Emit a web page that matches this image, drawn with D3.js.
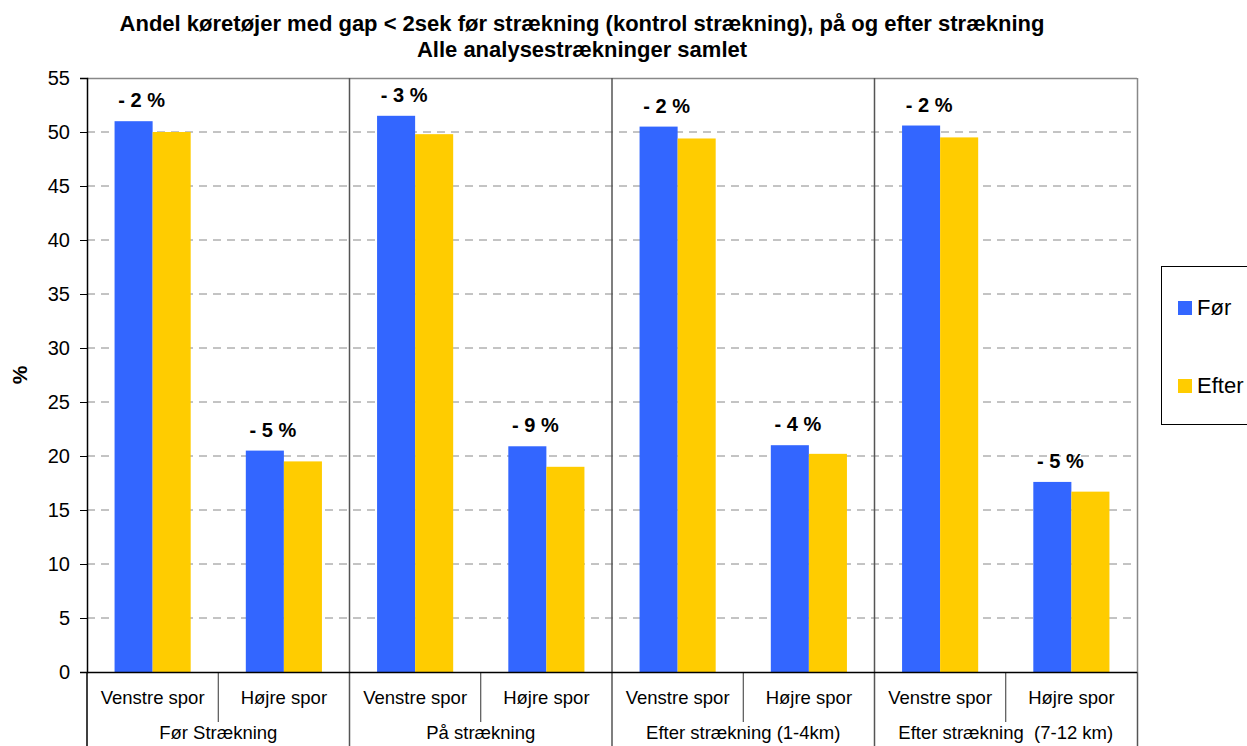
<!DOCTYPE html>
<html>
<head>
<meta charset="utf-8">
<script src="https://cdn.jsdelivr.net/npm/d3@7"></script>
<style>
  body { margin: 0; background: #fff; }
  svg { display: block; font-family: "Liberation Sans", Arial, sans-serif; }
</style>
</head>
<body>
<svg id="chart" width="1247" height="746"></svg>
<script>
// Sections along the road and the lanes within each section
const sections = ["Før Strækning", "På strækning", "Efter strækning (1-4km)", "Efter strækning  (7-12 km)"];
const lanes = ["Venstre spor", "Højre spor"];

// Share of vehicles with gap < 2 s (%), one value per section/lane
const forValues   = [51.0, 20.5, 51.5, 20.9, 50.5, 21.0, 50.6, 17.6];
const efterValues = [50.0, 19.5, 49.8, 19.0, 49.4, 20.2, 49.5, 16.7];

// Change labels shown above each pair
const changeLabels = ["- 2 %", "- 5 %", "- 3 %", "- 9 %", "- 2 %", "- 4 %", "- 2 %", "- 5 %"];

const seriesNames = ["Før", "Efter"];
const seriesColors = ["#3366FF", "#FFCC00"];
const yTicks = [0, 5, 10, 15, 20, 25, 30, 35, 40, 45, 50, 55];

const svg = d3.select("#chart");
const plot = { left: 87, right: 1137, top: 78, bottom: 672 };

const slots = d3.range(sections.length * lanes.length);
const x = d3.scaleBand().domain(slots).range([plot.left, plot.right])
  .paddingInner(0.42).paddingOuter(0.21);
const xSeries = d3.scaleBand().domain(seriesNames).range([0, x.bandwidth()]);
const y = d3.scaleLinear().domain([0, 55]).range([plot.bottom, plot.top]);

// Title
svg.append("text").attr("x", 582).attr("y", 31).attr("text-anchor", "middle")
  .attr("font-size", 22).attr("font-weight", "bold")
  .text("Andel køretøjer med gap < 2sek før strækning (kontrol strækning), på og efter strækning");
svg.append("text").attr("x", 582).attr("y", 57).attr("text-anchor", "middle")
  .attr("font-size", 22).attr("font-weight", "bold")
  .text("Alle analysestrækninger samlet");

// Dashed horizontal gridlines
svg.append("g").selectAll("line").data(yTicks.filter(t => t > 0 && t < 55)).join("line")
  .attr("x1", plot.left).attr("x2", plot.right)
  .attr("y1", d => y(d)).attr("y2", d => y(d))
  .attr("stroke", "#888").attr("stroke-width", 1).attr("stroke-dasharray", "8,6");

// Plot frame: top and right edges
svg.append("line").attr("x1", plot.left).attr("x2", plot.right)
  .attr("y1", plot.top + 0.5).attr("y2", plot.top + 0.5).attr("stroke", "#888").attr("stroke-width", 1.5);
svg.append("line").attr("x1", plot.right + 0.5).attr("x2", plot.right + 0.5)
  .attr("y1", plot.top).attr("y2", plot.bottom).attr("stroke", "#888").attr("stroke-width", 1.5);

// Bars
const pairs = slots.map(i => ({ slot: i, values: [forValues[i], efterValues[i]] }));
const barGroups = svg.append("g").selectAll("g").data(pairs).join("g")
  .attr("transform", d => `translate(${x(d.slot)},0)`);
barGroups.selectAll("rect").data(d => d.values.map((v, k) => ({ v, k }))).join("rect")
  .attr("x", d => xSeries(seriesNames[d.k]))
  .attr("width", xSeries.bandwidth())
  .attr("y", d => y(d.v))
  .attr("height", d => y(0) - y(d.v))
  .attr("fill", d => seriesColors[d.k]);

// Change labels above the "Før" bar
svg.append("g").selectAll("text").data(pairs).join("text")
  .attr("x", d => x(d.slot) + xSeries("Før") + xSeries.bandwidth() / 2 + 8)
  .attr("y", d => y(d.values[0]) - 14)
  .attr("text-anchor", "middle").attr("font-size", 20).attr("font-weight", "bold")
  .text(d => changeLabels[d.slot]);

// Group separators running from the top of the plot through the category rows
const groupWidth = (plot.right - plot.left) / sections.length;
svg.append("g").selectAll("line").data(d3.range(1, sections.length)).join("line")
  .attr("x1", d => plot.left + d * groupWidth).attr("x2", d => plot.left + d * groupWidth)
  .attr("y1", plot.top).attr("y2", 746)
  .attr("stroke", "#555").attr("stroke-width", 1.5);
svg.append("line").attr("x1", plot.right + 0.5).attr("x2", plot.right + 0.5)
  .attr("y1", plot.bottom).attr("y2", 746).attr("stroke", "#555").attr("stroke-width", 1.5);

// Lane separators within each section
svg.append("g").selectAll("line").data(d3.range(sections.length)).join("line")
  .attr("x1", d => plot.left + (d + 0.5) * groupWidth).attr("x2", d => plot.left + (d + 0.5) * groupWidth)
  .attr("y1", plot.bottom).attr("y2", 722)
  .attr("stroke", "#333").attr("stroke-width", 1);

// Y axis
const yAxis = svg.append("g").attr("transform", `translate(${plot.left},0)`)
  .call(d3.axisLeft(y).tickValues(yTicks).tickSize(7).tickPadding(10).tickFormat(d3.format("d")));
yAxis.select(".domain").attr("stroke", "#000").attr("stroke-width", 1.5);
yAxis.selectAll(".tick line").attr("stroke", "#000");
yAxis.selectAll("text").attr("font-size", 20).attr("font-family", "Liberation Sans, Arial, sans-serif").attr("fill", "#000");
svg.append("line").attr("x1", plot.left).attr("x2", plot.left)
  .attr("y1", plot.bottom).attr("y2", 746).attr("stroke", "#000").attr("stroke-width", 1.5);

// X axis baseline
svg.append("line").attr("x1", plot.left).attr("x2", plot.right)
  .attr("y1", plot.bottom + 0.5).attr("y2", plot.bottom + 0.5).attr("stroke", "#000").attr("stroke-width", 1.5);

// Lane and section labels
svg.append("g").selectAll("text").data(slots).join("text")
  .attr("x", d => x(d) + x.bandwidth() / 2).attr("y", 704)
  .attr("text-anchor", "middle").attr("font-size", 18.5)
  .text(d => lanes[d % lanes.length]);
svg.append("g").selectAll("text").data(sections).join("text")
  .attr("x", (d, i) => plot.left + (i + 0.5) * groupWidth).attr("y", 739)
  .attr("text-anchor", "middle").attr("font-size", 18.5)
  .attr("xml:space", "preserve").style("white-space", "pre")
  .text(d => d);

// Y axis title
svg.append("text").attr("transform", "translate(27,375) rotate(-90)")
  .attr("text-anchor", "middle").attr("font-size", 21).attr("font-weight", "bold").text("%");

// Legend
const legend = svg.append("g");
legend.append("rect").attr("x", 1161.5).attr("y", 266.5).attr("width", 100).attr("height", 158)
  .attr("fill", "#fff").attr("stroke", "#000");
seriesNames.forEach((name, i) => {
  const base = 315 + i * 78;
  legend.append("rect").attr("x", 1178).attr("y", base - 14).attr("width", 14).attr("height", 14)
    .attr("fill", seriesColors[i]);
  legend.append("text").attr("x", 1197).attr("y", base).attr("font-size", 22).text(name);
});
</script>
</body>
</html>
